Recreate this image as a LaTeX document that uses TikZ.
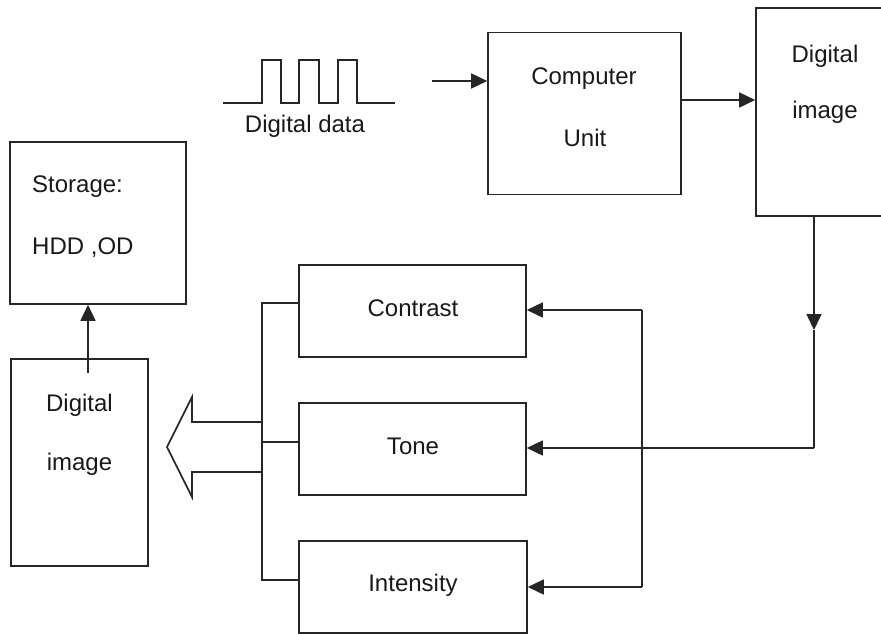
\documentclass[tikz,border=0pt]{standalone}
\usepackage{fontspec}
\setmainfont{Liberation Sans}
\usetikzlibrary{arrows.meta}
\begin{document}
\begin{tikzpicture}[x=1pt,y=-1pt,
  box/.style={draw=black!85,line width=1.6pt,inner sep=0pt,fill=none},
  lbl/.style={font=\fontsize{24}{27}\selectfont,text=black!90,inner sep=0pt,anchor=center},
  wire/.style={draw=black!85,line width=1.6pt},
  arr/.style={wire,-{Triangle[length=16pt,width=15pt]}},
  hollow/.style={draw=black!85,line width=1.6pt,line join=miter}]
\useasboundingbox (0,0) rectangle (881,633);
\clip (0,0) rectangle (881,633);
% boxes
\node[box,minimum width=193,minimum height=162] (cpu) at (584.5,113.5) {};
\node[box,minimum width=130,minimum height=208] (dimg1) at (821,112) {};
\node[box,minimum width=176,minimum height=162] (stor) at (98,223) {};
\node[box,minimum width=137,minimum height=207] (dimg2) at (79.5,462.5) {};
\node[box,minimum width=227,minimum height=92] (contrast) at (412.5,311) {};
\node[box,minimum width=227,minimum height=92] (tone) at (412.5,449) {};
\node[box,minimum width=228,minimum height=92] (inten) at (413,587) {};
% texts
\node[lbl] (t1) at (584,79) {Computer};
\node[lbl] (t2) at (585,138) {Unit};
\node[lbl] (t3) at (825,56) {Digital};
\node[lbl] (t4) at (825,112) {image};
\node[lbl,anchor=west] (t5) at (32,187) {Storage:};
\node[lbl,anchor=west] (t6) at (32,248) {HDD ,OD};
\node[lbl] (t7) at (79.5,405) {Digital};
\node[lbl] (t8) at (79.5,464) {image};
\node[lbl] (t9) at (413,308) {Contrast};
\node[lbl] (t10) at (413,446) {Tone};
\node[lbl] (t11) at (413,585) {Intensity};
\node[lbl] (t12) at (305,126) {Digital data};
% waveform
\draw[wire,line join=miter] (223,103) -- (262,103) -- (262,60) -- (281,60) -- (281,103)
  -- (299,103) -- (299,60) -- (319,60) -- (319,103) -- (338,103) -- (338,60)
  -- (357,60) -- (357,103) -- (395,103);
% top arrows
\coordinate (inA) at (432,81);
\draw[arr] (inA) -- (inA -| cpu.west);
\draw[arr] (cpu.east |- 0,100) -- (dimg1.west |- 0,100);
% down from right digital image
\coordinate (dd) at (814,330);
\coordinate (dc) at (814,448);
\draw[arr] (dimg1.south -| dd) -- (dd);
\draw[wire] (dd) -- (dc);
\draw[arr] (dc) -- (tone.east |- dc);
% right bus
\coordinate (rb1) at (642,310);
\coordinate (rb3) at (642,587);
\draw[wire] (rb1) -- (rb3);
\draw[arr] (rb1) -- (contrast.east |- rb1);
\draw[arr] (rb3) -- (inten.east |- rb3);
% left bus
\coordinate (lb1) at (262,303);
\coordinate (lb2) at (262,442);
\coordinate (lb3) at (262,580);
\draw[wire] (contrast.west |- lb1) -- (lb1) -- (lb3) -- (inten.west |- lb3);
\draw[wire] (lb2) -- (tone.west |- lb2);
% hollow arrow
\draw[hollow] (262,422) -- (192,422) -- (192,397) -- (167,447) -- (192,497) -- (192,472) -- (262,472);
% up arrow to storage
\coordinate (us) at (88,373);
\draw[arr] (us) -- (us |- stor.south);
\end{tikzpicture}
\end{document}
